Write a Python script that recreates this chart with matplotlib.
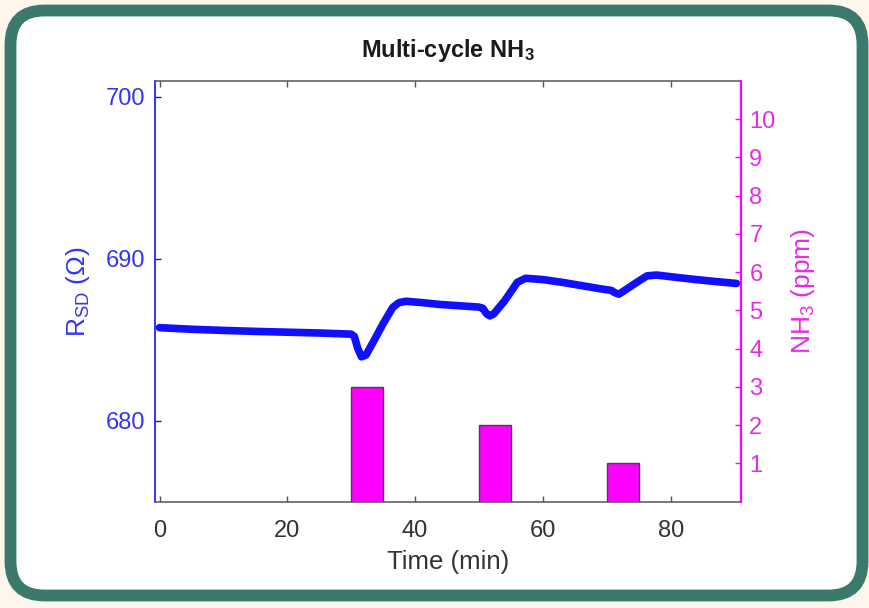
import matplotlib
matplotlib.use("Agg")
import matplotlib.pyplot as plt
from matplotlib.patches import FancyBboxPatch
from matplotlib.transforms import IdentityTransform

plt.rcParams["font.family"] = ["Liberation Sans", "DejaVu Sans"]
plt.rcParams["mathtext.fontset"] = "custom"
plt.rcParams["mathtext.rm"] = "Liberation Sans"
plt.rcParams["mathtext.it"] = "Liberation Sans:italic"
plt.rcParams["mathtext.bf"] = "Liberation Sans:bold"
plt.rcParams["mathtext.default"] = "regular"

# sensor resistance over time
time_min = [0, 5, 10, 15, 20, 25, 30, 30.5, 31, 31.6, 32.3, 33.5, 35, 36.5, 37.5,
            38.6, 41, 44, 47, 50, 50.6, 51.2, 51.7, 52.3, 54, 56, 57.3, 60, 63,
            66, 69, 70.7, 71.3, 71.9, 72.8, 74.5, 76.3, 77.8, 81, 84, 87, 90.3]
r_sd = [685.75, 685.65, 685.58, 685.52, 685.47, 685.42, 685.35, 685.2, 684.5,
        683.95, 684.05, 684.9, 686.0, 687.0, 687.3, 687.38, 687.3, 687.18,
        687.1, 687.02, 686.95, 686.6, 686.48, 686.6, 687.4, 688.55, 688.8,
        688.72, 688.55, 688.35, 688.15, 688.05, 687.9, 687.82, 688.05, 688.5,
        688.95, 689.0, 688.85, 688.72, 688.6, 688.48]

# NH3 pulses
pulse_start = [30, 50, 70]
pulse_len = [5, 5, 5]
pulse_ppm = [3, 2, 1]

blue = "#1010ff"
magenta = "#ff00ff"
grey = "#555555"

fig = plt.figure(figsize=(8.7, 6.08), dpi=100, facecolor="#fcf6ec")

frame = FancyBboxPatch((10.5, 12.5), 852, 585,
                       boxstyle="round,pad=0,rounding_size=34",
                       transform=IdentityTransform(), facecolor="white",
                       edgecolor="#3b7a6a", linewidth=8.5, zorder=-10)
fig.patches.append(frame)

ax = fig.add_axes([0.1782, 0.1748, 0.6735, 0.6924])
ax.set_facecolor("none")
ax2 = ax.twinx()

ax.plot(time_min, r_sd, color=blue, lw=5.5, solid_capstyle="round", zorder=3)
ax2.bar(pulse_start, pulse_ppm, width=pulse_len, align="edge",
        color=magenta, edgecolor="#444444", linewidth=1.0)

ax.set_xlim(-0.7, 91)
ax.set_ylim(675, 701)
ax2.set_ylim(0, 11)

ax.set_xticks([0, 20, 40, 60, 80])
ax.set_yticks([680, 690, 700])
ax2.set_yticks(range(1, 11))

for s in ("top", "bottom"):
    ax.spines[s].set_color(grey)
    ax.spines[s].set_linewidth(1.1)
    ax2.spines[s].set_visible(False)
ax.spines["left"].set_color(blue)
ax.spines["left"].set_linewidth(1.2)
ax.spines["right"].set_visible(False)
ax2.spines["left"].set_visible(False)
ax2.spines["right"].set_color(magenta)
ax2.spines["right"].set_linewidth(1.6)

ax.tick_params(axis="x", direction="in", top=True, length=4, width=1,
               color=grey, labelcolor="#333333", labelsize=17, pad=13)
ax.tick_params(axis="y", direction="in", length=4, width=1, color=blue,
               labelcolor="#3434f5", labelsize=17, pad=7)
ax2.tick_params(axis="y", direction="in", length=4, width=1, color=magenta,
                labelcolor="#e52ce5", labelsize=17, pad=6)

ax.set_xlabel("Time (min)", fontsize=18.5, color="#333333", labelpad=6)
ax.set_ylabel(r"R$_{SD}$ ($\Omega$)", fontsize=19, color="#3434f5", labelpad=10)
ax2.set_ylabel(r"NH$_3$ (ppm)", fontsize=19, color="#e52ce5", labelpad=10)
ax.set_title(r"Multi-cycle NH$_3$", fontsize=17, fontweight="bold",
             color="#1a1a1a", pad=17)

fig.savefig("out.png", dpi=100, facecolor=fig.get_facecolor())
